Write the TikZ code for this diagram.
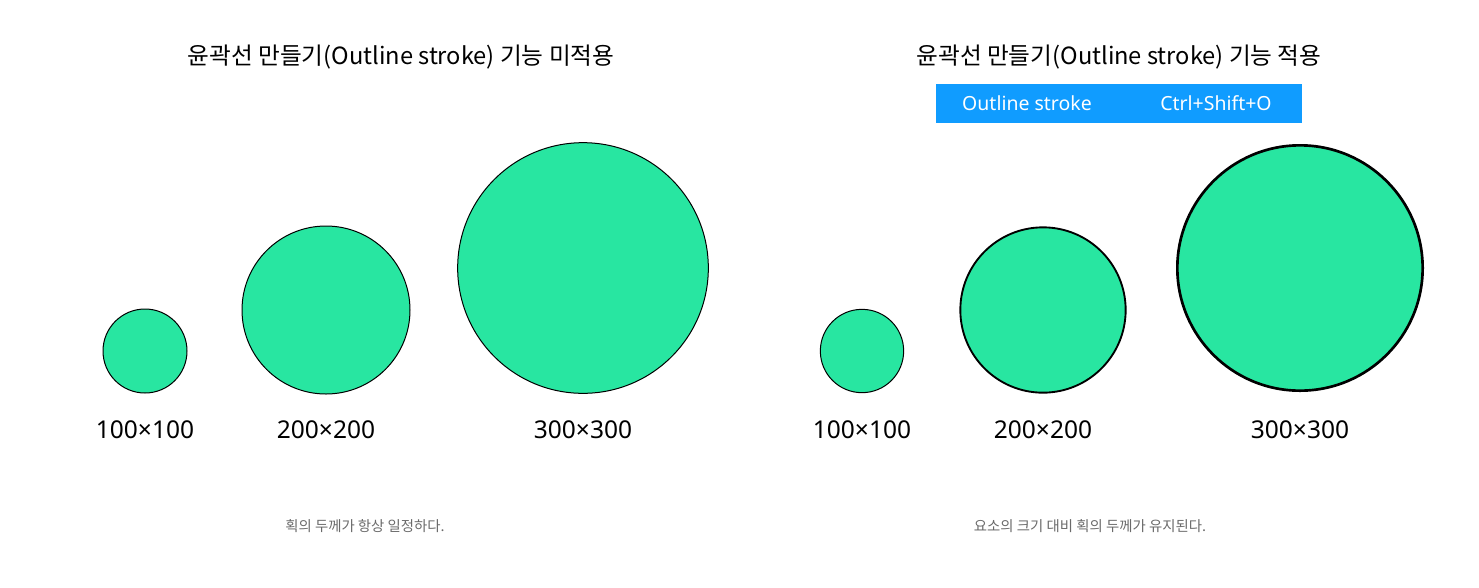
\documentclass[tikz,border=0pt]{standalone}
\usepackage{fontspec}
\setmainfont{Noto Sans CJK KR}
\newfontfamily\latinfont{Noto Sans}
\usetikzlibrary{positioning}
\definecolor{mint}{HTML}{28E6A1}
\definecolor{figblue}{HTML}{109CFF}
\definecolor{capgray}{HTML}{6A6A6A}

\begin{document}
\begin{tikzpicture}[x=0.75pt,y=-0.75pt,inner sep=0pt,
	blob/.style={circle,draw=black,fill=mint,line width=0.75pt},
	sizelabel/.style={font=\latinfont\fontsize{18.4}{20}\selectfont},
	keylabel/.style={font=\latinfont\fontsize{14.6}{16}\selectfont,text=white},
	heading/.style={font=\fontsize{17.75}{20}\selectfont},
	caption/.style={font=\fontsize{10.8}{12}\selectfont,text=capgray}]
	\useasboundingbox (0,0) rectangle (1479,587);
	% left: strokes not outlined
	\node[heading] (titleL) at (401,57) {윤곽선 만들기(Outline stroke) 기능 미적용};
	\node[blob,minimum size=63pt] (aL) at (145,351) {};
	\node[blob,minimum size=126pt] (bL) at (326,310) {};
	\node[blob,minimum size=188pt] (cL) at (583,268) {};
	\node[sizelabel] (laL) at (145,430) {100×100};
	\node[sizelabel] (lbL) at (326,430) {200×200};
	\node[sizelabel] (lcL) at (583,430) {300×300};
	\node[caption] (capL) at (365,526) {획의 두께가 항상 일정하다.};
	% right: strokes outlined
	\node[heading] (titleR) at (1119,57) {윤곽선 만들기(Outline stroke) 기능 적용};
	\fill[figblue] (936,84) rectangle (1302,123);
	\node[keylabel] (cmd) at (1027,103.5) {Outline stroke};
	\node[keylabel] (keys) at (1216,103.5) {Ctrl+Shift+O};
	\node[blob,minimum size=62.5pt] (aR) at (862,351) {};
	\node[blob,minimum size=124pt,line width=1.4pt] (bR) at (1043,310) {};
	\node[blob,minimum size=184pt,line width=2pt] (cR) at (1300,268) {};
	\node[sizelabel] (laR) at (862,430) {100×100};
	\node[sizelabel] (lbR) at (1043,430) {200×200};
	\node[sizelabel] (lcR) at (1300,430) {300×300};
	\node[caption] (capR) at (1090,526) {요소의 크기 대비 획의 두께가 유지된다.};
\end{tikzpicture}
\end{document}
